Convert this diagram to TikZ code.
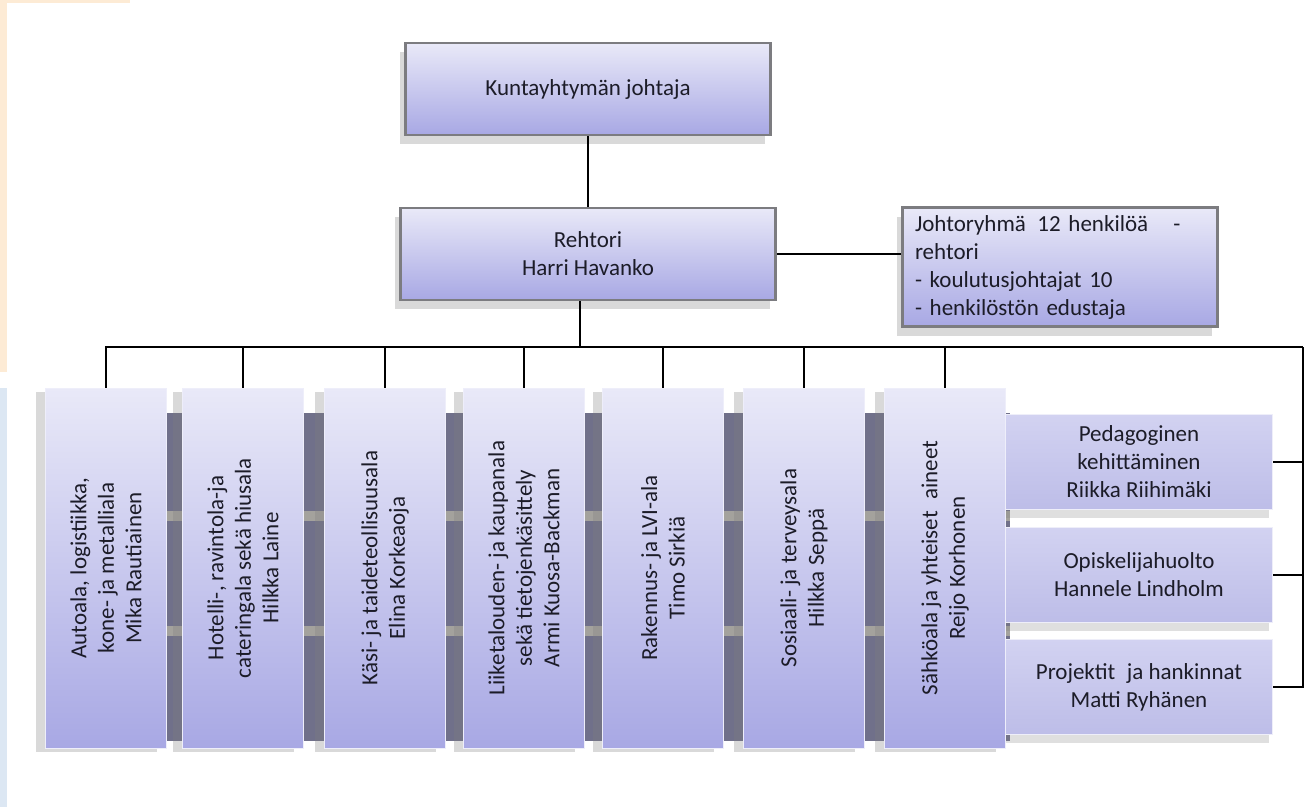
\documentclass[tikz,border=0pt]{standalone}
\usepackage{fontspec}
\setmainfont{Carlito}
\usetikzlibrary{shadows}

\definecolor{boxtop}{HTML}{E9E9F8}
\definecolor{boxbot}{HTML}{A8A8E4}
\definecolor{sidetop}{HTML}{D2D2F1}
\definecolor{sidebot}{HTML}{BDBDE8}
\definecolor{rimgray}{HTML}{7C7C80}
\definecolor{backdark}{HTML}{70708A}
\definecolor{backband}{HTML}{A4A29D}
\definecolor{peach}{HTML}{FDEBD5}
\definecolor{paleblue}{HTML}{DCE7F3}
\definecolor{inktext}{HTML}{1C1C28}

\tikzset{
    unitbox/.style={rectangle, top color=boxtop, bottom color=boxbot,
        draw=rimgray, line width=2.5pt, text=inktext, align=center,
        font=\fontsize{23}{28}\selectfont,
        drop shadow={shadow xshift=-6pt, shadow yshift=-9pt, opacity=.3}},
    colbox/.style={rectangle, rotate=90, top color=boxtop, bottom color=boxbot,
        draw=white!80!boxbot, line width=1pt, text=inktext, align=center,
        minimum width=360pt, minimum height=121pt, inner sep=2pt,
        font=\fontsize{23}{27.5}\selectfont,
        drop shadow={shadow xshift=-10pt, shadow yshift=-4pt, opacity=.3}},
    sidebox/.style={rectangle, top color=sidetop, bottom color=sidebot,
        draw=white!75!sidebot, line width=1pt, text=inktext, align=center,
        minimum width=267pt, minimum height=95pt,
        font=\fontsize{23}{28}\selectfont,
        drop shadow={shadow xshift=-4pt, shadow yshift=-8pt, opacity=.25}},
    vhline/.style={to path={|- (\tikztotarget)}},
    hvline/.style={to path={-| (\tikztotarget)}}
}

\begin{document}
\begin{tikzpicture}[x=1pt,y=-1pt]
\useasboundingbox (0,0) rectangle (1305,807);

% page edge
\fill[peach] (0,0) rectangle (7,372);
\fill[peach] (0,0) rectangle (130,3);
\fill[paleblue] (0,388) rectangle (7,807);

% backdrop behind the columns
\fill[backdark] (45,413) rectangle (1010,741);
\fill[backband] (45,511) rectangle (1010,521);
\fill[backband] (45,626) rectangle (1010,636);

\begin{scope}[every node/.style={unitbox}]
    \node[minimum width=365pt, minimum height=92pt] (johtaja) at (588,89) {Kuntayhtymän johtaja};
    \node[minimum width=375pt, minimum height=92pt] (rehtori) at (588,254) {Rehtori\\Harri Havanko};
    \node[minimum width=315pt, minimum height=119pt, align=left, text width=290pt]
        (johtoryhma) at (1060,267)
        {Johtoryhmä\enspace 12 henkilöä\hspace{1.1em}-\\rehtori\\- koulutusjohtajat 10\\- henkilöstön edustaja};
\end{scope}

\begin{scope}[every node/.style={sidebox}]
    \node (pedagog) at (1139,462) {Pedagoginen\\kehittäminen\\Riikka Riihimäki};
    \node (opisk) at (1139,575) {Opiskelijahuolto\\Hannele Lindholm};
    \node (projekt) at (1139,687) {Projektit\enspace ja hankinnat\\Matti Ryhänen};
\end{scope}

\begin{scope}[every node/.style={colbox}]
    \node (auto) at (106,568) {Autoala, logistiikka,\\kone- ja metalliala\\Mika Rautiainen};
    \node (hotelli) at (243,568) {Hotelli-, ravintola-ja\\cateringala sekä hiusala\\Hilkka Laine};
    \node (kasi) at (385,568) {Käsi- ja taideteollisuusala\\Elina Korkeaoja};
    \node (liike) at (524,568) {Liiketalouden- ja kaupanala\\sekä tietojenkäsittely\\Armi Kuosa-Backman};
    \node (rakennus) at (663,568) {Rakennus- ja LVI-ala\\Timo Sirkiä};
    \node (sosiaali) at (804,568) {Sosiaali- ja terveysala\\Hilkka Seppä};
    \node (sahko) at (945,568) {Sähköala ja yhteiset\enspace aineet\\Reijo Korhonen};
\end{scope}

\coordinate (bus) at (580,347);
\coordinate (buscorner) at (1303,347);

% columns are rotated: their .east is the top on the page
\begin{scope}[every edge/.style={draw=black, line width=2.6pt}]
    \path (johtaja) edge (rehtori);
    \path (rehtori.east) edge (rehtori.east -| johtoryhma.west);
    \path (rehtori.south -| bus) edge (bus);
    \path (auto.east) edge[vhline] (bus);
    \path (hotelli.east) edge[vhline] (bus);
    \path (kasi.east) edge[vhline] (bus);
    \path (liike.east) edge[vhline] (bus);
    \path (rakennus.east) edge[vhline] (bus);
    \path (sosiaali.east) edge[vhline] (bus);
    \path (sahko.east) edge[vhline] (bus);
    \path (bus) edge (buscorner);
    \path (pedagog.east) edge[hvline] (buscorner);
    \path (opisk.east) edge[hvline] (buscorner);
    \path (projekt.east) edge[hvline] (buscorner);
\end{scope}
\end{tikzpicture}
\end{document}
